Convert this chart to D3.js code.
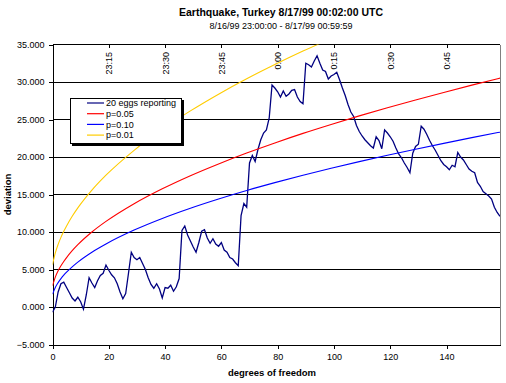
<!DOCTYPE html>
<html><head><meta charset="utf-8">
<script src="https://cdn.jsdelivr.net/npm/d3@7/dist/d3.min.js"></script>
<style>
body{margin:0;background:#fff}
text{font-family:"Liberation Sans",Arial,sans-serif;fill:#000}
</style>
</head><body>
<svg id="chart" width="506" height="383"></svg>
<script>
// ---- data ----
const title = "Earthquake, Turkey 8/17/99 00:02:00 UTC";
const subtitle = "8/16/99 23:00:00 - 8/17/99 00:59:59";
const seriesNames = ["20 eggs reporting", "p=0.05", "p=0.10", "p=0.01"];
const seriesColors = ["#000080", "#ff0000", "#0000ff", "#ffcc00"];

// deviation of the 20-egg network, one value per degree of freedom (0..159)
const eggs = [
 -0.7,0.0,2.0,3.1,3.3,2.6,1.9,1.2,0.8,1.3,
 0.7,-0.3,1.6,3.9,3.2,2.6,3.5,4.2,4.5,5.6,
 4.9,4.3,3.9,3.1,2.0,1.1,1.8,4.5,7.3,6.6,
 6.3,6.6,5.8,5.0,3.9,3.0,2.5,3.1,2.4,1.2,
 2.6,2.5,2.9,2.1,2.7,3.8,10.2,10.8,9.6,8.8,
 8.0,7.3,8.6,10.1,10.3,9.2,8.5,9.1,8.4,8.1,
 8.6,7.6,7.3,6.6,6.4,5.9,5.5,12.2,13.8,13.3,
 19.2,20.2,19.4,21.0,22.3,23.2,23.6,25.2,29.6,29.2,
 28.7,28.0,28.8,28.1,28.4,28.9,29.0,28.0,27.4,27.1,
 32.5,32.3,32.0,32.8,33.5,32.5,31.6,31.4,30.4,30.8,
 31.0,31.3,30.3,29.2,28.2,27.0,26.0,25.4,24.2,23.4,
 22.8,22.3,21.9,21.5,21.2,22.7,22.2,21.1,23.6,23.2,
 22.7,22.1,21.2,20.4,19.9,19.2,18.6,17.9,20.5,21.4,
 21.7,24.1,23.7,23.0,22.2,21.5,20.9,20.2,19.5,19.0,
 18.7,18.3,18.9,18.7,20.6,20.0,19.6,19.0,18.4,18.1,
 17.9,16.6,16.1,15.4,15.1,14.8,14.4,13.3,12.6,12.1
];

// significance curves, read at these degrees of freedom
const critX = [0,1,2,3,4,5,7,9,14,19,29,39,49,59,69,79,89,99,109,119,129,139,149,159];
const p05 = [2.84,3.99,4.82,5.49,6.07,6.59,7.51,8.31,10.0,11.41,13.77,15.76,17.51,19.08,20.53,21.88,23.15,24.34,25.48,26.57,27.61,28.61,29.58,30.52];
const p10 = [1.71,2.61,3.25,3.78,4.24,4.65,5.36,5.99,7.31,8.41,10.26,11.81,13.17,14.40,15.53,16.58,17.57,18.50,19.38,20.23,21.04,21.82,22.58,23.31];
const p01X = [0,1,2,3,4,5,7,9,14,19,29,39,49,59,69,79,89,99];
const p01 = [5.64,7.21,8.35,9.28,10.09,10.81,12.09,13.21,15.58,17.57,20.89,23.69,26.15,28.38,30.43,32.33,34.12,35.81];

const xTicks = [0,20,40,60,80,100,120,140];
const yTicks = [-5,0,5,10,15,20,25,30,35];
const timeTickPos = [20,40,60,80,100,120,140];
const timeTickLabels = ["23:15","23:30","23:45","0:00","0:15","0:30","0:45"];

// ---- drawing ----
const svg = d3.select("#chart");
const x = d3.scaleLinear().domain([0,159]).range([52.5,500]);
const y = d3.scaleLinear().domain([-5,35]).range([344.5,44.5]);
const X0 = x(0), X1 = x(159);

// titles
svg.append("text").attr("x",281).attr("y",16).attr("text-anchor","middle")
  .style("font-weight","bold").style("font-size","10.5px").text(title);
svg.append("text").attr("x",281).attr("y",29).attr("text-anchor","middle")
  .style("font-size","9px").text(subtitle);

// gridlines
svg.append("g").selectAll("line").data(yTicks.filter(d=>d>-5)).join("line")
  .attr("x1",X0).attr("x2",X1).attr("y1",d=>y(d)).attr("y2",d=>y(d))
  .attr("stroke","#000").attr("stroke-width",1).attr("shape-rendering","crispEdges");

// right border
svg.append("line").attr("x1",X1).attr("x2",X1).attr("y1",y(35)).attr("y2",y(-5))
  .attr("stroke","#808080").attr("shape-rendering","crispEdges");

// axes
const fmt = d3.format(".3f");
const gy = svg.append("g").attr("transform",`translate(${X0},0)`)
  .call(d3.axisLeft(y).tickValues(yTicks).tickFormat(fmt).tickSize(4).tickSizeOuter(0).tickPadding(4));
const gx = svg.append("g").attr("transform",`translate(0,${y(-5)})`)
  .call(d3.axisBottom(x).tickValues(xTicks).tickFormat(d3.format("d")).tickSize(4).tickSizeOuter(0).tickPadding(5));
const gt = svg.append("g").attr("transform",`translate(0,${y(35)})`)
  .call(d3.axisTop(x).tickValues(timeTickPos).tickFormat("").tickSize(-3).tickSizeOuter(0));
[gy,gx,gt].forEach(g=>{
  g.selectAll("path,line").attr("stroke","#000").attr("shape-rendering","crispEdges");
  g.selectAll("text").style("font-size","9px").attr("font-family",null).attr("fill","#000");
});
gt.select(".domain").remove();

// rotated time labels
svg.append("g").selectAll("text").data(timeTickPos).join("text")
  .attr("transform",(d)=>`translate(${x(d)+3.5},52) rotate(-90)`)
  .attr("text-anchor","end").style("font-size","9px")
  .text((d,i)=>timeTickLabels[i]);

// axis titles
svg.append("text").attr("x",272).attr("y",376).attr("text-anchor","middle")
  .style("font-weight","bold").style("font-size","9.5px").text("degrees of freedom");
svg.append("text").attr("transform",`translate(11,${(y(35)+y(-5))/2}) rotate(-90)`)
  .attr("text-anchor","middle").style("font-weight","bold").style("font-size","9.5px").text("deviation");

// clip
svg.append("clipPath").attr("id","plot").append("rect")
  .attr("x",X0).attr("y",y(35)).attr("width",X1-X0).attr("height",y(-5)-y(35));
const plot = svg.append("g").attr("clip-path","url(#plot)");

const lineIdx = d3.line().x((d,i)=>x(i)).y(d=>y(d));
plot.append("path").datum(eggs).attr("d",lineIdx)
  .attr("fill","none").attr("stroke",seriesColors[0]).attr("stroke-width",1.3);

const lineXY = d3.line().x(d=>x(d[0])).y(d=>y(d[1])).curve(d3.curveMonotoneX);
[[critX,p05,1],[critX,p10,2],[p01X,p01,3]].forEach(([xs,vs,k])=>{
  plot.append("path").datum(xs.map((v,i)=>[v,vs[i]])).attr("d",lineXY)
    .attr("fill","none").attr("stroke",seriesColors[k]).attr("stroke-width",1.1);
});

// legend
const lg = svg.append("g");
lg.append("rect").attr("x",72).attr("y",100).attr("width",112).attr("height",46).attr("fill","#000");
lg.append("rect").attr("x",70.5).attr("y",98.5).attr("width",111).attr("height",45)
  .attr("fill","#fff").attr("stroke","#000");
seriesNames.forEach((n,i)=>{
  const yy = 103 + i*10.7;
  lg.append("line").attr("x1",87).attr("x2",104).attr("y1",yy).attr("y2",yy)
    .attr("stroke",seriesColors[i]).attr("stroke-width",1.2);
  lg.append("text").attr("x",106).attr("y",yy).attr("dy","0.35em").style("font-size","9px").text(n);
});
</script>
</body></html>
